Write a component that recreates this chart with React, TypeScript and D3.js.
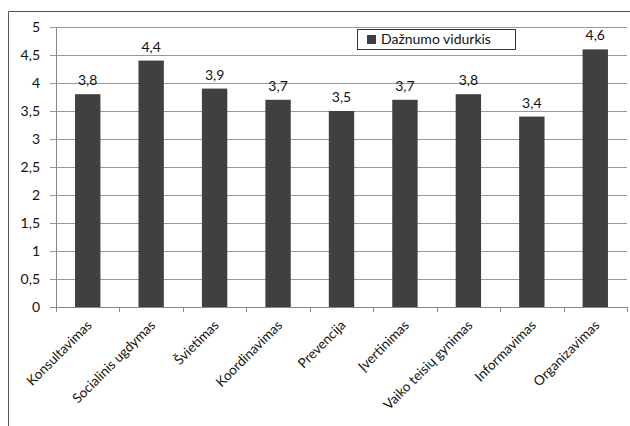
import React from 'react';
import * as d3 from 'd3';

const categories = [
  'Konsultavimas',
  'Socialinis ugdymas',
  'Švietimas',
  'Koordinavimas',
  'Prevencija',
  'Įvertinimas',
  'Vaiko teisių gynimas',
  'Informavimas',
  'Organizavimas',
];
const values = [3.8, 4.4, 3.9, 3.7, 3.5, 3.7, 3.8, 3.4, 4.6];
const yTicks = [0, 0.5, 1, 1.5, 2, 2.5, 3, 3.5, 4, 4.5, 5];
const seriesName = 'Dažnumo vidurkis';

const fmt = (v: number) => String(v).replace('.', ',');

export default function App() {
  const width = 630;
  const height = 426;
  const plot = { left: 56, right: 627, top: 27, bottom: 307 };
  const font = 'Lato, "Open Sans", sans-serif';

  const x = d3.scaleBand<string>().domain(categories).range([plot.left, plot.right]).paddingInner(0.6).paddingOuter(0.3);
  const y = d3.scaleLinear().domain([0, 5]).range([plot.bottom, plot.top]);
  const edges = d3.range(categories.length + 1).map((i) => plot.left + i * ((plot.right - plot.left) / categories.length));

  return (
    <svg width={width} height={height} style={{ position: 'absolute', left: 0, top: 0 }}>
      <rect x={0} y={0} width={width} height={height} fill="#fff" />
      {/* outer frame */}
      <path d={`M8.5,${height} V11.5 H${width}`} fill="none" stroke="#555" strokeWidth={1} />
      {/* grid */}
      {yTicks.map((t) => (
        <g key={t}>
          <line x1={plot.left - 6} x2={plot.right} y1={Math.round(y(t)) + 0.5} y2={Math.round(y(t)) + 0.5} stroke={t === 0 ? '#888' : '#999'} />
          <text x={40} y={y(t)} dy="0.35em" textAnchor="end" fontFamily={font} fontSize={14} fill="#111">{fmt(t)}</text>
        </g>
      ))}
      <line x1={plot.left + 0.5} x2={plot.left + 0.5} y1={plot.top} y2={plot.bottom} stroke="#888" />
      {edges.map((e, i) => (
        <line key={i} x1={Math.round(e) + 0.5} x2={Math.round(e) + 0.5} y1={plot.bottom} y2={plot.bottom + 5} stroke="#888" />
      ))}
      {/* bars */}
      {categories.map((c, i) => {
        const bx = x(c)!;
        const cx = bx + x.bandwidth() / 2;
        return (
          <g key={c}>
            <rect x={bx} y={y(values[i])} width={x.bandwidth()} height={plot.bottom - y(values[i])} fill="#404040" />
            <text x={cx} y={y(values[i]) - 9} textAnchor="middle" fontFamily={font} fontSize={14} fill="#111">{fmt(values[i])}</text>
            <text
              transform={`translate(${cx + 5},${plot.bottom + 19}) rotate(-45)`}
              textAnchor="end"
              fontFamily={font}
              fontSize={13.5}
              fill="#111"
            >{c}</text>
          </g>
        );
      })}
      {/* legend */}
      <rect x={357.5} y={29.5} width={158} height={20} fill="#fff" stroke="#333" />
      <rect x={367} y={35} width={9} height={9} fill="#404040" />
      <text x={381} y={39.5} dy="0.35em" fontFamily={font} fontSize={14} fill="#111">{seriesName}</text>
    </svg>
  );
}
